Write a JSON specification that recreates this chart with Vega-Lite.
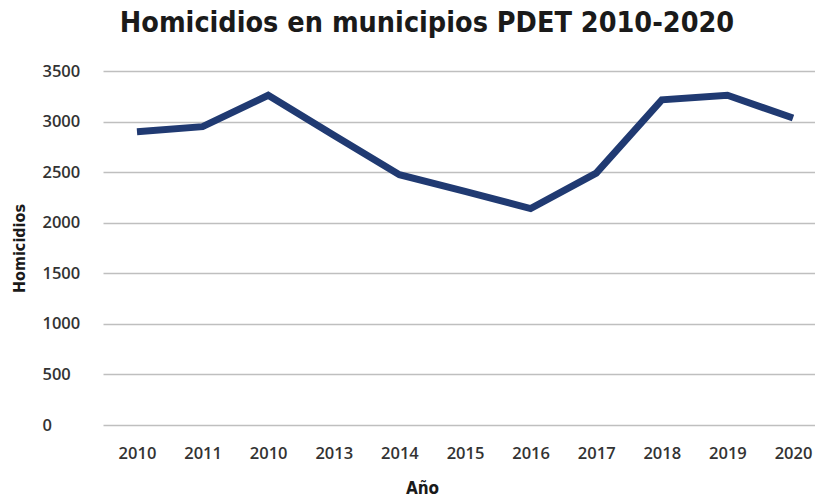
{
  "$schema": "https://vega.github.io/schema/vega-lite/v6.json",
  "autosize": {"type": "none"},
  "width": 724,
  "height": 354,
  "padding": {"left": 103, "top": 71, "right": 0, "bottom": 75},
  "background": "white",
  "title": {
    "text": "Homicidios en municipios PDET 2010-2020",
    "font": "'DejaVu Sans Condensed', Roboto, sans-serif",
    "fontSize": 28.5,
    "fontWeight": "bold",
    "color": "#1a1a1a",
    "anchor": "middle",
    "dx": -38,
    "offset": 26
  },
  "data": {
    "values": [
      {"Año": "2010", "Homicidios": 2900},
      {"Año": "2011", "Homicidios": 2950},
      {"Año": "2010\u200b", "Homicidios": 3260},
      {"Año": "2013", "Homicidios": 2865},
      {"Año": "2014", "Homicidios": 2475},
      {"Año": "2015", "Homicidios": 2310},
      {"Año": "2016", "Homicidios": 2140},
      {"Año": "2017", "Homicidios": 2490},
      {"Año": "2018", "Homicidios": 3215},
      {"Año": "2019", "Homicidios": 3260},
      {"Año": "2020", "Homicidios": 3035}
    ]
  },
  "mark": {"type": "line", "color": "#203a72", "strokeWidth": 7, "strokeCap": "butt", "strokeJoin": "miter"},
  "encoding": {
    "x": {
      "field": "Año",
      "type": "ordinal",
      "sort": null,
      "scale": {"type": "point", "padding": 0.518},
      "axis": {
        "title": "Año",
        "domain": false,
        "ticks": false,
        "grid": false,
        "labelAngle": 0,
        "labelFont": "Open Sans",
        "labelFontSize": 16.5,
        "labelFontWeight": 600,
        "labelColor": "#333333",
        "labelPadding": 20,
        "titleFont": "'DejaVu Sans Condensed', Roboto, sans-serif",
        "titleFontSize": 17,
        "titleFontWeight": "bold",
        "titleColor": "#1a1a1a",
        "titleX": 319,
        "titlePadding": 19
      }
    },
    "y": {
      "field": "Homicidios",
      "type": "quantitative",
      "scale": {"domain": [0, 3500], "nice": false},
      "axis": {
        "title": "Homicidios",
        "format": "d",
        "values": [0, 500, 1000, 1500, 2000, 2500, 3000, 3500],
        "domain": false,
        "ticks": false,
        "grid": true,
        "gridColor": "#bfbfbf",
        "gridWidth": 1.5,
        "labelAlign": "left",
        "labelPadding": 61,
        "labelFont": "Open Sans",
        "labelFontSize": 16.5,
        "labelFontWeight": 600,
        "labelColor": "#333333",
        "titleFont": "'DejaVu Sans Condensed', Roboto, sans-serif",
        "titleFontSize": 16,
        "titleFontWeight": "bold",
        "titleColor": "#1a1a1a",
        "titleX": -76
      }
    }
  },
  "config": {"view": {"stroke": null}}
}
